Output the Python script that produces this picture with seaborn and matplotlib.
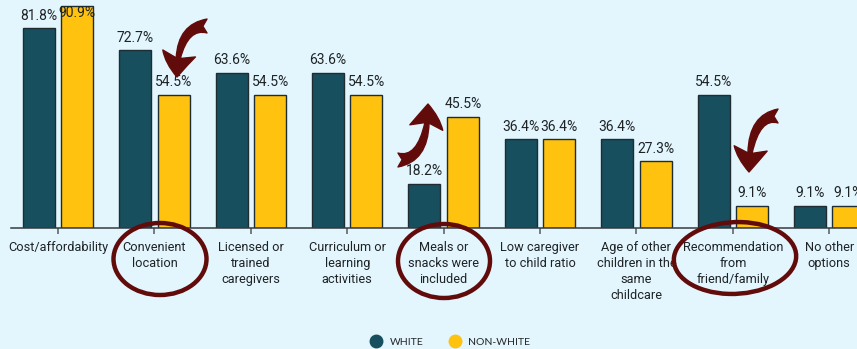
import matplotlib
matplotlib.use("Agg")
import matplotlib.pyplot as plt
from matplotlib import font_manager
from matplotlib.patches import Ellipse, FancyArrowPatch
from matplotlib.lines import Line2D
import pandas as pd
import seaborn as sns

categories = [
    "Cost/affordability",
    "Convenient\nlocation",
    "Licensed or\ntrained\ncaregivers",
    "Curriculum or\nlearning\nactivities",
    "Meals or\nsnacks were\nincluded",
    "Low caregiver\nto child ratio",
    "Age of other\nchildren in the\nsame\nchildcare",
    "Recommendation\nfrom\nfriend/family",
    "No other\noptions",
]
white = [81.8, 72.7, 63.6, 63.6, 18.2, 36.4, 36.4, 54.5, 9.1]
non_white = [90.9, 54.5, 54.5, 54.5, 45.5, 36.4, 27.3, 9.1, 9.1]
groups = ["White", "Non-white"]
legend_labels = ["WHITE", "NON-WHITE"]

TEAL = "#174f5f"
GOLD = "#ffc20e"
BG = "#e3f6fd"
MAROON = "#620b0b"
EDGE = "#1f2d33"

available = {f.name for f in font_manager.fontManager.ttflist}
narrow = "Liberation Sans Narrow" if "Liberation Sans Narrow" in available else "Roboto"

df = pd.DataFrame({
    "category": categories * 2,
    "group": [groups[0]] * len(categories) + [groups[1]] * len(categories),
    "share": white + non_white,
})

sns.set_theme(style="white")
plt.rcParams["font.family"] = [narrow, "DejaVu Sans"]

W, H = 857, 349
fig = plt.figure(figsize=(W / 100, H / 100), dpi=100, facecolor=BG)

# axes spans past the right edge of the canvas, so the last bar is cut off
x0, xmax = -0.488, 8.6
spacing = 96.4
left_px = 58 + spacing * x0
right_px = 58 + spacing * xmax
base_px = 228
ax = fig.add_axes([left_px / W, (H - base_px) / H, (right_px - left_px) / W, base_px / H])
ax.set_facecolor(BG)

sns.barplot(data=df, x="category", y="share", hue="group", order=categories,
            hue_order=groups, palette=[TEAL, GOLD], saturation=1, width=0.8,
            gap=0.17, edgecolor=EDGE, linewidth=1.0, legend=False, ax=ax)

ax.set_xlim(x0, xmax)
ax.set_ylim(0, base_px / 2.442)
ax.set_xlabel("")
ax.set_ylabel("")
ax.set_yticks([])
for side in ["left", "right", "top"]:
    ax.spines[side].set_visible(False)
ax.spines["bottom"].set_color("#333b3f")
ax.spines["bottom"].set_linewidth(1.1)
ax.tick_params(axis="x", bottom=True, length=4.5, width=1.1, color="#555c60",
               pad=5, labelsize=9.2, labelcolor="#1e2326")
for lbl in ax.get_xticklabels():
    lbl.set_linespacing(1.3)

# value labels above each bar, kept inside the plotting area
for cont in ax.containers:
    for rect in cont:
        v = rect.get_height()
        y = min(v, 83.0)
        ax.annotate(f"{v:.1f}%", (rect.get_x() + rect.get_width() / 2, y),
                    xytext=(0, 4), textcoords="offset points", ha="center",
                    va="bottom", fontsize=10, color="#1e2326", clip_on=False)

# pixel coordinates (y measured from the top) -> figure fraction
def px(x, y):
    return (x / W, 1 - y / H)

# circled categories
for cx, cy, w, h, ang in [(160, 259, 93, 72, 0), (444, 261, 92, 74, 0), (735, 258, 122, 72, -4)]:
    e = Ellipse(px(cx, cy), w / W, h / H, angle=ang, transform=fig.transFigure,
                fill=False, edgecolor=MAROON, linewidth=3.2, zorder=5)
    fig.add_artist(e)

# curved arrows showing the direction of change: they leave sideways
# and end with a vertical head
style = "fancy,head_length=1.7,head_width=2.4,tail_width=1.0"
for tail, tip in [((207, 26), (177, 77)),
                  ((398, 160), (428, 104)),
                  ((778, 116), (749, 172))]:
    arr = FancyArrowPatch(px(*tail), px(*tip), transform=fig.transFigure,
                          arrowstyle=style, mutation_scale=10,
                          connectionstyle="angle3,angleA=0,angleB=90",
                          color=MAROON, shrinkA=0, shrinkB=0, zorder=6)
    fig.add_artist(arr)

handles = [Line2D([], [], marker="o", linestyle="", markersize=9,
                  markerfacecolor=c, markeredgecolor=c) for c in (TEAL, GOLD)]
fig.legend(handles, legend_labels, loc="center", bbox_to_anchor=px(448, 342),
           ncol=2, frameon=False, handletextpad=0.3, columnspacing=2.0,
           prop={"family": ["Lato", "DejaVu Sans"], "size": 7.5})

fig.savefig("out.png", dpi=100, facecolor=BG)
